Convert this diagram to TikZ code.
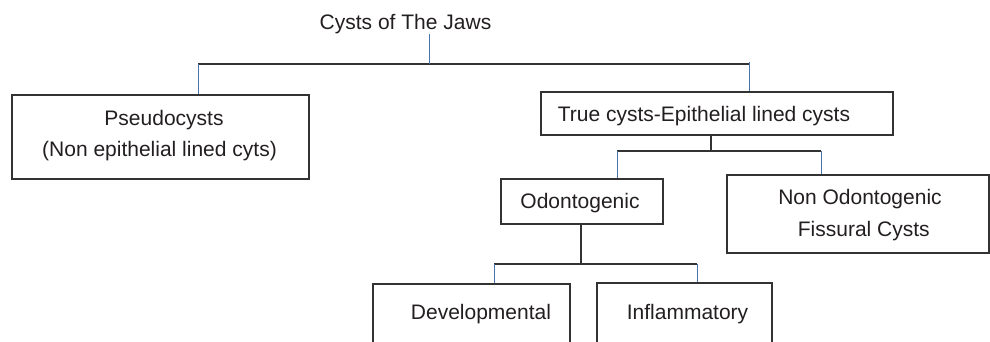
\documentclass[tikz,border=0pt]{standalone}
\usepackage{fontspec}
\setmainfont{Liberation Sans}
\definecolor{inkc}{HTML}{231F20}
\definecolor{edgec}{HTML}{333333}
\definecolor{bluec}{HTML}{4A74AE}
\begin{document}
\begin{tikzpicture}[x=1pt,y=-1pt,
  box/.style={draw=edgec, line width=1.2pt, inner sep=0pt, minimum width=#1},
  txt/.style={inner sep=0pt, anchor=base, text=inkc, font=\fontsize{21}{25}\selectfont},
  dk/.style={draw=edgec, line width=1.2pt},
  bl/.style={draw=bluec, line width=1pt}]
\clip (0,0) rectangle (990,341);
\fill[white] (0,0) rectangle (990,341);
% boxes
\node[box=297, minimum height=84] (pseudo) at (160.5,137) {};
\node[box=352, minimum height=43] (true) at (717,113.5) {};
\node[box=162, minimum height=45] (odonto) at (582,201.5) {};
\node[box=262, minimum height=78] (nonodo) at (858,214) {};
\node[box=197, minimum height=96] (dev) at (471.5,332) {};
\node[box=175, minimum height=97] (infl) at (684.5,331.5) {};
% texts
\node[txt] (title) at (405.5,29.5) {Cysts of The Jaws};
\node[txt] (pseudoA) at (164,125) {Pseudocysts};
\node[txt] (pseudoB) at (159.5,156) {(Non epithelial lined cyts)};
\node[txt] (trueT) at (704,121) {True cysts-Epithelial lined cysts};
\node[txt] (odontoT) at (580,208.5) {Odontogenic};
\node[txt] (nonodoA) at (860,204) {Non Odontogenic};
\node[txt] (nonodoB) at (863.8,236.7) {Fissural Cysts};
\node[txt] (devT) at (481,319) {Developmental};
\node[txt] (inflT) at (687.5,319.5) {Inflammatory};
% junctions
\coordinate (j0) at (429,64);
\coordinate (a1) at (198,64);
\coordinate (a2) at (749,64);
\coordinate (b0) at (711,151);
\coordinate (b1) at (617,151);
\coordinate (b2) at (821,151);
\coordinate (c0) at (581,264);
\coordinate (c1) at (494,264);
\coordinate (c2) at (697,264);
% connectors
\draw[dk] (a1) -- (a2);
\draw[bl] (j0 |- title.south) -- (j0);
\draw[bl] (a1) -- (a1 |- pseudo.north);
\draw[bl] ([yshift=2pt]a2) -- (a2 |- true.north);
\draw[dk] (b0 |- true.south) -- (b0);
\draw[dk] (b1) -- (b2);
\draw[bl] (b1) -- (b1 |- odonto.north);
\draw[bl] (b2) -- (b2 |- nonodo.north);
\draw[dk] (c0 |- odonto.south) -- (c0);
\draw[dk] (c1) -- (c2);
\draw[bl] (c1) -- (c1 |- dev.north);
\draw[bl] (c2) -- (c2 |- infl.north);
\end{tikzpicture}
\end{document}
